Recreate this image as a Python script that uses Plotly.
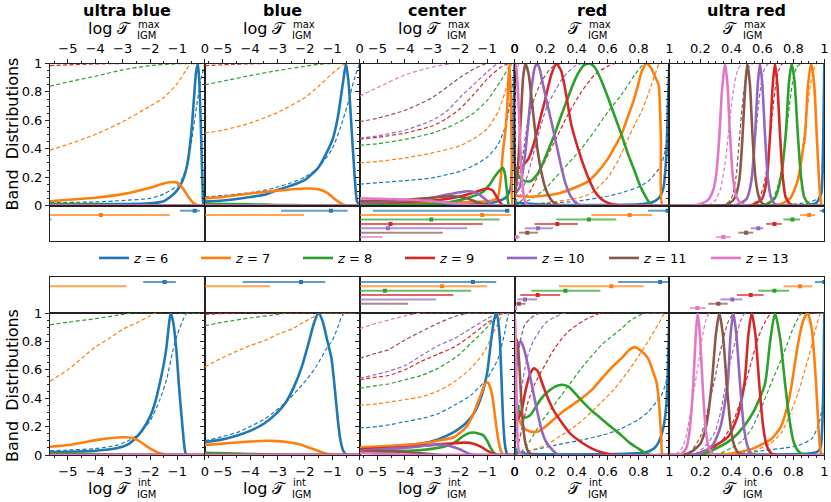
import plotly.graph_objects as go

W, H = 831, 502
Z_VALUES = [6, 7, 8, 9, 10, 11, 13]
Z_COLORS = ['#1f77b4', '#ff7f0e', '#2ca02c', '#d62728', '#9467bd', '#8c564b', '#e377c2']
BANDS = ['ultra blue', 'blue', 'center', 'red', 'ultra red']
BAND_LOG = [True, True, True, False, False]
LOG_RANGE = [-5.65, 0]
LIN_RANGE = [0, 1]
LOG_TICKS = [-5, -4, -3, -2, -1, 0]
LOG_TICKTEXT = ['−5', '−4', '−3', '−2', '−1', '0']
LIN_TICKS = [0, 0.2, 0.4, 0.6, 0.8, 1]
LIN_TICKTEXT = ['0', '0.2', '0.4', '0.6', '0.8', '1']
UR_TICKTEXT = ['', '0.2', '0.4', '0.6', '0.8', '1']
Y_TICKS = [0, 0.2, 0.4, 0.6, 0.8, 1]
Y_TICKTEXT = ['0', '0.2', '0.4', '0.6', '0.8', '1']
ZERO_LOG = [(-5.65, 0), (0, 0)]

# ---------------- top row (T_max) ----------------
TOP_UB_SOLID = {
    6: [(-5.65, 0.01), (-3, 0.01), (-2, 0.015), (-1.5, 0.03), (-1.2, 0.07), (-1, 0.11), (-0.8, 0.18), (-0.65, 0.28), (-0.5, 0.5), (-0.4, 0.75), (-0.32, 0.94), (-0.25, 1.0), (-0.19, 0.82), (-0.13, 0.45), (-0.08, 0.1), (-0.05, 0), (0, 0)],
    7: [(-5.65, 0.03), (-5, 0.04), (-4, 0.055), (-3, 0.08), (-2.5, 0.1), (-2, 0.125), (-1.5, 0.155), (-1.2, 0.165), (-1, 0.16), (-0.8, 0.12), (-0.6, 0.06), (-0.4, 0.015), (-0.2, 0), (0, 0)],
    8: [(-5.65, 0.01), (-4, 0.006), (-3, 0.003), (-2, 0.001), (0, 0)],
    9: ZERO_LOG, 10: ZERO_LOG, 11: ZERO_LOG, 13: ZERO_LOG,
}
TOP_UB_DASH = {
    6: [(-5.65, 0.02), (-4, 0.025), (-3, 0.035), (-2, 0.05), (-1.5, 0.08), (-1, 0.14), (-0.8, 0.2), (-0.6, 0.32), (-0.45, 0.5), (-0.3, 0.7), (-0.15, 0.88), (0, 1.0)],
    7: [(-5.65, 0.39), (-5, 0.43), (-4, 0.5), (-3, 0.59), (-2, 0.7), (-1.5, 0.76), (-1, 0.86), (-0.7, 0.95), (-0.5, 1.0), (0, 1.0)],
    8: [(-5.65, 0.84), (-5, 0.87), (-4, 0.91), (-3, 0.955), (-2, 0.985), (-1, 0.998), (0, 1.0)],
    9: [(-5.65, 0.985), (-5, 0.99), (-4, 0.997), (-3, 1.0), (0, 1.0)],
}
TOP_B_SOLID = {
    6: [(-5.65, 0.027), (-5, 0.035), (-4, 0.06), (-3.4, 0.08), (-3, 0.11), (-2.5, 0.14), (-2, 0.18), (-1.5, 0.27), (-1.0, 0.46), (-0.8, 0.62), (-0.6, 0.88), (-0.5, 1.0), (-0.4, 0.85), (-0.3, 0.55), (-0.2, 0.25), (-0.1, 0.03), (0, 0)],
    7: [(-5.65, 0.05), (-5, 0.06), (-4, 0.085), (-3, 0.105), (-2, 0.12), (-1.5, 0.115), (-1.2, 0.09), (-1, 0.06), (-0.8, 0.03), (-0.6, 0.007), (-0.45, 0), (0, 0)],
    8: [(-5.65, 0.012), (-4, 0.008), (-3, 0.004), (-2, 0.001), (0, 0)],
    9: ZERO_LOG, 10: ZERO_LOG, 11: ZERO_LOG, 13: ZERO_LOG,
}
TOP_B_DASH = {
    6: [(-5.65, 0.06), (-5, 0.07), (-4, 0.09), (-3.4, 0.11), (-3, 0.13), (-2.5, 0.16), (-2, 0.2), (-1.5, 0.27), (-1, 0.4), (-0.7, 0.55), (-0.4, 0.74), (-0.2, 0.89), (0, 1.0)],
    7: [(-5.65, 0.51), (-5, 0.53), (-4, 0.58), (-3, 0.655), (-2, 0.76), (-1.5, 0.84), (-1, 0.93), (-0.6, 0.99), (-0.5, 1.0), (0, 1.0)],
    8: [(-5.65, 0.85), (-5, 0.875), (-4, 0.915), (-3, 0.95), (-2, 0.98), (-1.5, 0.995), (-1, 1.0), (0, 1.0)],
    9: [(-5.65, 0.985), (-4.5, 0.995), (-3.5, 1.0), (0, 1.0)],
}
TOP_C_SOLID = {
    6: [(-5.65, 0.003), (-3, 0.005), (-2, 0.008), (-1, 0.015), (-0.6, 0.03), (-0.3, 0.06), (-0.15, 0.12), (-0.08, 0.3), (-0.04, 0.6), (0, 1.0)],
    7: [(-5.65, 0.015), (-3, 0.02), (-1.5, 0.025), (-1, 0.03), (-0.75, 0.04), (-0.61, 0.06), (-0.5, 0.2), (-0.43, 0.37), (-0.35, 0.5), (-0.28, 0.65), (-0.22, 0.9), (-0.18, 1.0), (-0.13, 0.7), (-0.1, 0.3), (-0.07, 0), (0, 0)],
    8: [(-5.65, 0.005), (-3, 0.01), (-2.2, 0.03), (-1.6, 0.06), (-1.2, 0.09), (-0.9, 0.15), (-0.7, 0.21), (-0.5, 0.255), (-0.42, 0.265), (-0.35, 0.22), (-0.28, 0.1), (-0.22, 0.01), (-0.15, 0), (0, 0)],
    9: [(-5.65, 0.02), (-4, 0.025), (-3, 0.035), (-2.2, 0.055), (-1.6, 0.085), (-1.2, 0.11), (-1.0, 0.12), (-0.8, 0.105), (-0.65, 0.06), (-0.5, 0.015), (-0.4, 0), (0, 0)],
    10: [(-5.65, 0.02), (-5, 0.025), (-4, 0.035), (-3, 0.055), (-2.5, 0.075), (-2, 0.093), (-1.7, 0.1), (-1.4, 0.09), (-1.1, 0.05), (-0.9, 0.015), (-0.75, 0), (0, 0)],
    11: [(-5.65, 0.03), (-4, 0.04), (-3, 0.055), (-2.3, 0.065), (-1.8, 0.055), (-1.4, 0.025), (-1, 0.003), (-0.8, 0), (0, 0)],
    13: [(-5.65, 0.05), (-5, 0.048), (-4, 0.042), (-3, 0.03), (-2.2, 0.015), (-1.5, 0.003), (-1, 0), (0, 0)],
}
TOP_C_DASH = {
    6: [(-5.65, 0.15), (-5, 0.16), (-4, 0.175), (-3, 0.195), (-2, 0.24), (-1.5, 0.28), (-1, 0.34), (-0.6, 0.43), (-0.3, 0.58), (-0.15, 0.75), (0, 0.97)],
    7: [(-5.65, 0.3), (-5, 0.31), (-4, 0.335), (-3, 0.37), (-2, 0.42), (-1.5, 0.47), (-1, 0.54), (-0.6, 0.66), (-0.3, 0.83), (-0.1, 1.0), (0, 1.0)],
    8: [(-5.65, 0.424), (-5, 0.435), (-4, 0.465), (-3, 0.51), (-2.5, 0.545), (-2, 0.59), (-1.5, 0.65), (-1, 0.74), (-0.5, 0.88), (-0.25, 0.96), (-0.1, 1.0), (0, 1.0)],
    9: [(-5.65, 0.468), (-5, 0.48), (-4, 0.51), (-3, 0.56), (-2.5, 0.61), (-2, 0.68), (-1.5, 0.78), (-1, 0.89), (-0.5, 0.975), (-0.2, 1.0), (0, 1.0)],
    10: [(-5.65, 0.475), (-5, 0.49), (-4, 0.53), (-3, 0.6), (-2.5, 0.66), (-2, 0.76), (-1.5, 0.85), (-1, 0.94), (-0.6, 1.0), (0, 1.0)],
    11: [(-5.65, 0.59), (-5, 0.615), (-4, 0.67), (-3, 0.76), (-2, 0.9), (-1.5, 0.96), (-1, 1.0), (0, 1.0)],
    13: [(-5.65, 0.77), (-5, 0.83), (-4, 0.92), (-3, 0.975), (-2.2, 1.0), (0, 1.0)],
}
TOP_R_SOLID = {
    6: [(0, 0.02), (0.2, 0.005), (0.5, 0.003), (0.8, 0.008), (0.88, 0.02), (0.93, 0.05), (0.96, 0.12), (0.98, 0.35), (0.99, 0.7), (1.0, 1.0)],
    7: [(0, 0.07), (0.05, 0.065), (0.1, 0.062), (0.2, 0.07), (0.3, 0.09), (0.4, 0.13), (0.474, 0.17), (0.54, 0.24), (0.603, 0.33), (0.65, 0.42), (0.69, 0.5), (0.73, 0.62), (0.76, 0.71), (0.79, 0.82), (0.82, 0.94), (0.85, 1.0), (0.88, 0.97), (0.91, 0.9), (0.93, 0.85), (0.945, 0.45), (0.955, 0), (1, 0)],
    8: [(0.01, 0.25), (0.03, 0.2), (0.06, 0.175), (0.1, 0.17), (0.14, 0.21), (0.172, 0.27), (0.21, 0.37), (0.258, 0.5), (0.3, 0.63), (0.345, 0.76), (0.38, 0.86), (0.41, 0.93), (0.45, 0.99), (0.485, 1.0), (0.52, 0.97), (0.56, 0.88), (0.603, 0.76), (0.65, 0.62), (0.69, 0.5), (0.73, 0.37), (0.776, 0.24), (0.81, 0.14), (0.84, 0.075), (0.87, 0.02), (0.9, 0), (1, 0)],
    9: [(0.01, 0.26), (0.04, 0.27), (0.06, 0.29), (0.09, 0.33), (0.12, 0.42), (0.14, 0.5), (0.17, 0.63), (0.194, 0.73), (0.237, 0.92), (0.27, 1.0), (0.3, 0.95), (0.33, 0.8), (0.366, 0.57), (0.41, 0.4), (0.453, 0.26), (0.49, 0.16), (0.517, 0.1), (0.56, 0.045), (0.6, 0.02), (0.65, 0.005), (0.7, 0), (1, 0)],
    10: [(0, 0.08), (0.03, 0.12), (0.05, 0.22), (0.07, 0.38), (0.09, 0.6), (0.11, 0.83), (0.13, 0.97), (0.145, 1.0), (0.16, 0.97), (0.18, 0.87), (0.21, 0.72), (0.24, 0.58), (0.27, 0.43), (0.3, 0.28), (0.33, 0.15), (0.36, 0.07), (0.39, 0.025), (0.43, 0), (1, 0)],
    11: [(0, 0.05), (0.02, 0.25), (0.04, 0.6), (0.055, 0.9), (0.07, 1.0), (0.09, 0.93), (0.11, 0.75), (0.13, 0.55), (0.15, 0.38), (0.17, 0.25), (0.2, 0.12), (0.23, 0.05), (0.26, 0.015), (0.3, 0), (1, 0)],
    13: [(0, 0.95), (0.008, 1.0), (0.02, 0.85), (0.03, 0.6), (0.04, 0.35), (0.05, 0.15), (0.065, 0.04), (0.08, 0.005), (0.1, 0), (1, 0)],
}
TOP_R_DASH = {
    6: [(0, 0.005), (0.2, 0.015), (0.4, 0.03), (0.6, 0.065), (0.69, 0.09), (0.8, 0.13), (0.862, 0.17), (0.92, 0.24), (0.948, 0.29), (0.975, 0.4), (1.0, 0.6)],
    7: [(0, 0), (0.2, 0.02), (0.4, 0.05), (0.5, 0.09), (0.603, 0.2), (0.67, 0.32), (0.733, 0.47), (0.78, 0.58), (0.819, 0.66), (0.855, 0.76), (0.884, 0.85), (0.91, 0.93), (0.935, 1.0), (1, 1.0)],
    8: [(0, 0), (0.1, 0.04), (0.2, 0.12), (0.258, 0.19), (0.35, 0.3), (0.431, 0.4), (0.52, 0.53), (0.603, 0.66), (0.69, 0.78), (0.776, 0.92), (0.84, 1.0), (1, 1.0)],
    9: [(0, 0), (0.05, 0.04), (0.1, 0.1), (0.172, 0.26), (0.258, 0.45), (0.345, 0.64), (0.431, 0.8), (0.517, 0.92), (0.6, 0.98), (0.65, 1.0), (1, 1.0)],
    10: [(0, 0.02), (0.04, 0.08), (0.086, 0.22), (0.13, 0.4), (0.172, 0.57), (0.21, 0.7), (0.258, 0.8), (0.3, 0.88), (0.345, 0.94), (0.4, 0.99), (0.45, 1.0), (1, 1.0)],
    11: [(0, 0.05), (0.03, 0.2), (0.054, 0.36), (0.086, 0.59), (0.129, 0.76), (0.172, 0.87), (0.237, 0.97), (0.3, 1.0), (1, 1.0)],
    13: [(0, 0.2), (0.005, 0.6), (0.01, 0.85), (0.02, 0.97), (0.03, 1.0), (1, 1.0)],
}
TOP_UR_SOLID = {
    6: [(0, 0), (0.9, 0.005), (0.95, 0.02), (0.98, 0.08), (0.99, 0.3), (1.0, 1.0)],
    7: [(0, 0), (0.65, 0), (0.72, 0.01), (0.78, 0.05), (0.83, 0.18), (0.86, 0.38), (0.876, 0.5), (0.895, 0.85), (0.915, 1.0), (0.935, 0.85), (0.951, 0.5), (0.965, 0.2), (0.975, 0.05), (0.985, 0), (1, 0)],
    8: [(0, 0), (0.58, 0), (0.63, 0.01), (0.68, 0.05), (0.72, 0.2), (0.751, 0.5), (0.772, 0.87), (0.79, 1.0), (0.808, 0.87), (0.829, 0.5), (0.85, 0.2), (0.87, 0.06), (0.9, 0.01), (0.93, 0), (1, 0)],
    9: [(0, 0), (0.5, 0), (0.55, 0.01), (0.6, 0.05), (0.63, 0.2), (0.65, 0.5), (0.667, 0.85), (0.682, 1.0), (0.697, 0.85), (0.714, 0.5), (0.732, 0.2), (0.75, 0.06), (0.78, 0.01), (0.82, 0), (1, 0)],
    10: [(0, 0), (0.4, 0), (0.45, 0.01), (0.5, 0.05), (0.53, 0.18), (0.553, 0.5), (0.57, 0.85), (0.585, 1.0), (0.6, 0.85), (0.617, 0.5), (0.635, 0.2), (0.655, 0.06), (0.68, 0.01), (0.72, 0), (1, 0)],
    11: [(0, 0), (0.33, 0), (0.38, 0.01), (0.42, 0.05), (0.45, 0.17), (0.47, 0.45), (0.49, 0.85), (0.503, 1.0), (0.52, 0.85), (0.536, 0.5), (0.555, 0.2), (0.575, 0.07), (0.6, 0.015), (0.64, 0), (1, 0)],
    13: [(0, 0), (0.15, 0), (0.2, 0.01), (0.25, 0.04), (0.28, 0.1), (0.3, 0.2), (0.32, 0.45), (0.34, 0.82), (0.359, 1.0), (0.375, 0.85), (0.39, 0.52), (0.41, 0.2), (0.43, 0.07), (0.46, 0.015), (0.5, 0), (1, 0)],
}
TOP_UR_DASH = {
    6: [(0, 0), (0.7, 0.005), (0.85, 0.015), (0.92, 0.03), (0.96, 0.05), (0.98, 0.1), (0.995, 0.3), (1.0, 0.5)],
    7: [(0, 0), (0.7, 0), (0.78, 0.05), (0.82, 0.15), (0.85, 0.32), (0.87, 0.5), (0.89, 0.68), (0.91, 0.85), (0.93, 0.95), (0.95, 1.0), (1, 1.0)],
    8: [(0, 0), (0.6, 0), (0.67, 0.05), (0.71, 0.18), (0.74, 0.38), (0.76, 0.56), (0.78, 0.75), (0.8, 0.9), (0.82, 0.97), (0.85, 1.0), (1, 1.0)],
    9: [(0, 0), (0.52, 0), (0.58, 0.05), (0.62, 0.2), (0.645, 0.42), (0.665, 0.65), (0.685, 0.84), (0.705, 0.95), (0.73, 1.0), (1, 1.0)],
    10: [(0, 0), (0.45, 0), (0.5, 0.05), (0.53, 0.2), (0.55, 0.42), (0.57, 0.65), (0.59, 0.84), (0.61, 0.95), (0.64, 1.0), (1, 1.0)],
    11: [(0, 0), (0.35, 0), (0.4, 0.05), (0.43, 0.2), (0.45, 0.45), (0.47, 0.7), (0.49, 0.88), (0.51, 0.97), (0.54, 1.0), (1, 1.0)],
    13: [(0, 0), (0.25, 0), (0.3, 0.04), (0.33, 0.12), (0.36, 0.3), (0.38, 0.5), (0.4, 0.7), (0.42, 0.86), (0.44, 0.95), (0.47, 1.0), (1, 1.0)],
}

# error bars: z -> (centre or None, low, high)
TOP_UB_ERR = {6: (-0.37, -0.91, -0.18), 7: (-3.79, -7, -1.28), 8: (None, -7, -5.6)}
TOP_B_ERR = {6: (-1.05, -2.87, -0.44), 7: (None, -7, -2.03)}
TOP_C_ERR = {6: (-0.27, -5.17, -0.19), 7: (-1.18, -7, -0.15), 8: (-3.04, -7, -0.55), 9: (-4.53, -7, -1.16), 10: (-4.62, -7, -1.73), 11: (None, -7, -2.62), 13: (None, -7, -4.82)}
TOP_R_ERR = {6: (0.987, 0.862, 0.991), 7: (0.743, 0.496, 0.888), 8: (0.48, 0.27, 0.657), 9: (0.276, 0.129, 0.409), 10: (0.151, 0.065, 0.248), 11: (0.082, 0.028, 0.151), 13: (0.011, 0.002, 0.032)}
TOP_UR_ERR = {6: (1.0, 0.97, 1.03), 7: (0.902, 0.844, 0.941), 8: (0.794, 0.736, 0.844), 9: (0.678, 0.624, 0.725), 10: (0.574, 0.525, 0.606), 11: (0.495, 0.445, 0.542), 13: (0.348, 0.301, 0.396)}

# ---------------- bottom row (T_int) ----------------
BOT_UB_SOLID = {
    6: [(-5.65, 0.02), (-5, 0.022), (-4, 0.03), (-3.22, 0.047), (-2.8, 0.075), (-2.6, 0.106), (-2.3, 0.17), (-2, 0.27), (-1.8, 0.38), (-1.64, 0.51), (-1.5, 0.64), (-1.4, 0.76), (-1.32, 0.9), (-1.25, 1.0), (-1.15, 0.93), (-1.04, 0.74), (-0.95, 0.5), (-0.85, 0.27), (-0.78, 0.12), (-0.73, 0.035), (-0.67, 0), (0, 0)],
    7: [(-5.65, 0.058), (-5, 0.07), (-4.4, 0.09), (-3.8, 0.11), (-3.3, 0.122), (-2.9, 0.125), (-2.6, 0.118), (-2.37, 0.095), (-2.15, 0.065), (-1.99, 0.045), (-1.8, 0.025), (-1.64, 0.012), (-1.4, 0), (0, 0)],
    8: [(-5.65, 0.012), (-4.5, 0.008), (-3.5, 0.004), (-2.5, 0.001), (0, 0)],
    9: ZERO_LOG, 10: ZERO_LOG, 11: ZERO_LOG, 13: ZERO_LOG,
}
BOT_UB_DASH = {
    6: [(-5.65, 0.03), (-5, 0.035), (-4, 0.045), (-3.2, 0.07), (-2.8, 0.1), (-2.4, 0.15), (-2, 0.24), (-1.64, 0.39), (-1.4, 0.53), (-1.16, 0.74), (-1.0, 0.85), (-0.8, 0.95), (-0.65, 1.0), (0, 1.0)],
    7: [(-5.65, 0.52), (-5, 0.6), (-4.44, 0.69), (-4, 0.76), (-3.5, 0.82), (-3, 0.885), (-2.5, 0.93), (-2, 0.98), (-1.8, 1.0), (0, 1.0)],
    8: [(-5.65, 0.917), (-5, 0.935), (-4, 0.96), (-3, 0.99), (-2.7, 1.0), (0, 1.0)],
}
BOT_B_SOLID = {
    6: [(-5.65, 0.09), (-5, 0.11), (-4.5, 0.135), (-4, 0.17), (-3.5, 0.22), (-3, 0.3), (-2.7, 0.37), (-2.4, 0.48), (-2.1, 0.63), (-1.85, 0.8), (-1.65, 0.94), (-1.5, 1.0), (-1.35, 0.94), (-1.2, 0.82), (-1.03, 0.68), (-0.9, 0.45), (-0.8, 0.25), (-0.7, 0.1), (-0.6, 0.03), (-0.48, 0), (0, 0)],
    7: [(-5.65, 0.07), (-5, 0.08), (-4.5, 0.088), (-4, 0.095), (-3.4, 0.1), (-3, 0.098), (-2.6, 0.09), (-2.2, 0.075), (-1.9, 0.055), (-1.6, 0.035), (-1.3, 0.013), (-1.0, 0.002), (-0.8, 0), (0, 0)],
    8: [(-5.65, 0.015), (-4.5, 0.01), (-3.5, 0.005), (-2.5, 0.001), (0, 0)],
    9: ZERO_LOG, 10: ZERO_LOG, 11: ZERO_LOG, 13: ZERO_LOG,
}
BOT_B_DASH = {
    6: [(-5.65, 0.1), (-5, 0.13), (-4.39, 0.165), (-4, 0.2), (-3.5, 0.25), (-3.18, 0.294), (-2.7, 0.37), (-2.21, 0.47), (-1.9, 0.54), (-1.6, 0.62), (-1.24, 0.74), (-0.99, 0.81), (-0.8, 0.9), (-0.65, 0.98), (-0.55, 1.0), (0, 1.0)],
    7: [(-5.65, 0.62), (-5.12, 0.675), (-4.5, 0.73), (-4, 0.77), (-3.42, 0.81), (-3, 0.85), (-2.45, 0.89), (-2, 0.94), (-1.5, 0.99), (-1.3, 1.0), (0, 1.0)],
    8: [(-5.65, 0.91), (-5, 0.935), (-4, 0.965), (-3, 0.99), (-2.6, 1.0), (0, 1.0)],
    9: [(-5.65, 0.99), (-4.5, 1.0), (0, 1.0)],
}
BOT_C_SOLID = {
    6: [(-5.65, 0.05), (-5, 0.055), (-4.5, 0.06), (-4, 0.07), (-3.4, 0.08), (-2.8, 0.11), (-2.2, 0.163), (-1.8, 0.22), (-1.46, 0.3), (-1.2, 0.42), (-1.0, 0.58), (-0.86, 0.8), (-0.75, 0.95), (-0.65, 1.0), (-0.55, 0.85), (-0.48, 0.55), (-0.42, 0.25), (-0.35, 0.07), (-0.28, 0.01), (-0.2, 0), (0, 0)],
    7: [(-5.65, 0.055), (-5, 0.06), (-4, 0.07), (-3.4, 0.08), (-2.8, 0.1), (-2.2, 0.127), (-1.8, 0.19), (-1.58, 0.256), (-1.4, 0.34), (-1.22, 0.43), (-1.08, 0.5), (-0.98, 0.51), (-0.88, 0.47), (-0.8, 0.4), (-0.7, 0.25), (-0.6, 0.115), (-0.5, 0.03), (-0.42, 0), (0, 0)],
    8: [(-5.65, 0.02), (-4.5, 0.025), (-3.4, 0.035), (-2.8, 0.05), (-2.4, 0.068), (-2.1, 0.1), (-1.9, 0.13), (-1.7, 0.152), (-1.5, 0.158), (-1.3, 0.15), (-1.15, 0.14), (-1.0, 0.1), (-0.86, 0.045), (-0.72, 0.01), (-0.6, 0), (0, 0)],
    9: [(-5.65, 0.04), (-5, 0.045), (-4, 0.055), (-3.4, 0.065), (-2.8, 0.075), (-2.2, 0.083), (-1.8, 0.087), (-1.5, 0.08), (-1.2, 0.055), (-1.0, 0.03), (-0.8, 0.01), (-0.6, 0), (0, 0)],
    10: [(-5.65, 0.03), (-5, 0.038), (-4, 0.05), (-3.4, 0.062), (-2.8, 0.073), (-2.4, 0.065), (-2.0, 0.04), (-1.8, 0.02), (-1.6, 0.005), (-1.4, 0), (0, 0)],
    11: [(-5.65, 0.025), (-5, 0.027), (-4.5, 0.026), (-4, 0.02), (-3.4, 0.012), (-3, 0.005), (-2.6, 0), (0, 0)],
    13: [(-5.65, 0.015), (-5, 0.01), (-4, 0.003), (-3.5, 0), (0, 0)],
}
BOT_C_DASH = {
    6: [(-5.65, 0.19), (-5, 0.2), (-4.5, 0.215), (-4, 0.235), (-3.4, 0.256), (-2.8, 0.29), (-2.2, 0.35), (-1.6, 0.42), (-1.0, 0.54), (-0.6, 0.68), (-0.35, 0.87), (-0.2, 1.0), (0, 1.0)],
    7: [(-5.65, 0.35), (-5, 0.36), (-4.5, 0.375), (-4, 0.39), (-3.4, 0.41), (-2.8, 0.45), (-2.2, 0.515), (-1.6, 0.61), (-1.2, 0.7), (-0.98, 0.774), (-0.8, 0.85), (-0.6, 0.927), (-0.42, 1.0), (0, 1.0)],
    8: [(-5.65, 0.47), (-5, 0.49), (-4.6, 0.5), (-4, 0.53), (-3.4, 0.56), (-2.8, 0.61), (-2.4, 0.656), (-2, 0.71), (-1.6, 0.786), (-1.3, 0.84), (-1.0, 0.9), (-0.7, 0.97), (-0.55, 1.0), (0, 1.0)],
    9: [(-5.65, 0.53), (-5, 0.55), (-4.6, 0.56), (-4, 0.6), (-3.4, 0.66), (-2.8, 0.71), (-2.2, 0.76), (-1.6, 0.84), (-1.0, 0.93), (-0.6, 0.98), (-0.45, 1.0), (0, 1.0)],
    10: [(-5.65, 0.54), (-5, 0.57), (-4.6, 0.59), (-4, 0.63), (-3.4, 0.7), (-2.8, 0.77), (-2.2, 0.82), (-1.6, 0.89), (-1.0, 0.96), (-0.6, 1.0), (0, 1.0)],
    11: [(-5.65, 0.68), (-5, 0.72), (-4.62, 0.74), (-4, 0.81), (-3.4, 0.87), (-2.8, 0.927), (-2.2, 0.975), (-1.6, 1.0), (0, 1.0)],
    13: [(-5.65, 0.89), (-5, 0.93), (-4.5, 0.955), (-4, 0.98), (-3.4, 1.0), (0, 1.0)],
}
BOT_R_SOLID = {
    6: [(0, 0.05), (0.02, 0.02), (0.05, 0.01), (0.2, 0.005), (0.5, 0.005), (0.75, 0.01), (0.85, 0.02), (0.9, 0.045), (0.93, 0.09), (0.96, 0.19), (0.98, 0.35), (0.99, 0.6), (1.0, 1.0)],
    7: [(0.01, 0.35), (0.03, 0.25), (0.06, 0.19), (0.1, 0.165), (0.15, 0.165), (0.2, 0.2), (0.258, 0.256), (0.33, 0.32), (0.431, 0.397), (0.5, 0.46), (0.582, 0.562), (0.64, 0.63), (0.69, 0.68), (0.74, 0.74), (0.776, 0.76), (0.82, 0.73), (0.862, 0.68), (0.89, 0.6), (0.916, 0.515), (0.93, 0.4), (0.94, 0.25), (0.948, 0.1), (0.955, 0), (1, 0)],
    8: [(0.01, 0.4), (0.03, 0.3), (0.06, 0.26), (0.1, 0.28), (0.172, 0.397), (0.22, 0.45), (0.258, 0.48), (0.31, 0.495), (0.35, 0.48), (0.431, 0.385), (0.5, 0.31), (0.56, 0.256), (0.62, 0.2), (0.69, 0.138), (0.75, 0.08), (0.8, 0.045), (0.85, 0.01), (0.89, 0), (1, 0)],
    9: [(0.02, 0.25), (0.043, 0.3), (0.07, 0.45), (0.1, 0.57), (0.125, 0.61), (0.15, 0.59), (0.18, 0.5), (0.215, 0.4), (0.26, 0.3), (0.302, 0.233), (0.36, 0.15), (0.431, 0.09), (0.5, 0.045), (0.56, 0.02), (0.65, 0), (1, 0)],
    10: [(0, 0.3), (0.01, 0.6), (0.025, 0.78), (0.04, 0.8), (0.06, 0.75), (0.086, 0.633), (0.11, 0.5), (0.129, 0.397), (0.15, 0.29), (0.172, 0.186), (0.2, 0.1), (0.237, 0.045), (0.27, 0.01), (0.3, 0), (1, 0)],
    11: [(0, 0.6), (0.01, 0.82), (0.02, 0.78), (0.03, 0.65), (0.04, 0.45), (0.05, 0.28), (0.06, 0.15), (0.075, 0.06), (0.09, 0.02), (0.12, 0), (1, 0)],
    13: [(0, 1.0), (0.005, 0.9), (0.01, 0.6), (0.015, 0.3), (0.02, 0.1), (0.03, 0.02), (0.05, 0), (1, 0)],
}
BOT_R_DASH = {
    6: [(0, 0.01), (0.1, 0.03), (0.258, 0.068), (0.474, 0.115), (0.6, 0.15), (0.69, 0.186), (0.8, 0.25), (0.862, 0.303), (0.92, 0.38), (0.948, 0.42), (0.975, 0.5), (1.0, 0.62)],
    7: [(0, 0), (0.1, 0.03), (0.2, 0.07), (0.302, 0.138), (0.4, 0.21), (0.474, 0.28), (0.56, 0.37), (0.647, 0.468), (0.72, 0.57), (0.776, 0.656), (0.82, 0.73), (0.862, 0.8), (0.9, 0.87), (0.938, 0.94), (0.97, 1.0), (1, 1.0)],
    8: [(0, 0), (0.05, 0.03), (0.1, 0.1), (0.172, 0.233), (0.24, 0.33), (0.302, 0.42), (0.37, 0.52), (0.431, 0.61), (0.5, 0.7), (0.56, 0.774), (0.62, 0.83), (0.69, 0.89), (0.75, 0.95), (0.8, 0.98), (0.84, 1.0), (1, 1.0)],
    9: [(0, 0), (0.02, 0.06), (0.05, 0.2), (0.086, 0.37), (0.13, 0.5), (0.172, 0.586), (0.258, 0.75), (0.345, 0.868), (0.453, 0.95), (0.56, 1.0), (1, 1.0)],
    10: [(0, 0.05), (0.02, 0.25), (0.043, 0.45), (0.065, 0.6), (0.086, 0.7), (0.12, 0.8), (0.172, 0.89), (0.21, 0.94), (0.258, 0.97), (0.33, 1.0), (1, 1.0)],
    11: [(0, 0.3), (0.01, 0.55), (0.02, 0.68), (0.04, 0.82), (0.065, 0.915), (0.1, 0.96), (0.14, 0.99), (0.18, 1.0), (1, 1.0)],
    13: [(0, 0.3), (0.005, 0.8), (0.01, 1.0), (1, 1.0)],
}
BOT_UR_SOLID = {
    6: [(0, 0), (0.8, 0.005), (0.9, 0.01), (0.95, 0.02), (0.975, 0.05), (0.99, 0.3), (1.0, 1.0)],
    7: [(0, 0), (0.3, 0), (0.45, 0.02), (0.55, 0.05), (0.66, 0.115), (0.72, 0.2), (0.77, 0.38), (0.79, 0.5), (0.83, 0.78), (0.865, 0.95), (0.893, 1.0), (0.92, 0.88), (0.947, 0.5), (0.965, 0.15), (0.975, 0.03), (0.985, 0), (1, 0)],
    8: [(0, 0), (0.2, 0), (0.3, 0.045), (0.4, 0.11), (0.48, 0.2), (0.55, 0.32), (0.617, 0.5), (0.65, 0.8), (0.682, 1.0), (0.715, 0.82), (0.747, 0.5), (0.775, 0.25), (0.8, 0.1), (0.83, 0.03), (0.87, 0), (1, 0)],
    9: [(0, 0), (0.15, 0), (0.25, 0.04), (0.3, 0.07), (0.38, 0.13), (0.44, 0.27), (0.484, 0.5), (0.51, 0.85), (0.531, 1.0), (0.555, 0.85), (0.58, 0.5), (0.605, 0.2), (0.63, 0.06), (0.66, 0.01), (0.7, 0), (1, 0)],
    10: [(0, 0), (0.15, 0), (0.22, 0.02), (0.28, 0.07), (0.33, 0.2), (0.376, 0.5), (0.395, 0.85), (0.413, 1.0), (0.432, 0.85), (0.456, 0.5), (0.48, 0.2), (0.505, 0.06), (0.53, 0.01), (0.56, 0), (1, 0)],
    11: [(0, 0), (0.08, 0), (0.14, 0.02), (0.2, 0.08), (0.24, 0.22), (0.273, 0.5), (0.3, 0.85), (0.322, 1.0), (0.345, 0.85), (0.37, 0.5), (0.395, 0.2), (0.42, 0.06), (0.45, 0.01), (0.48, 0), (1, 0)],
    13: [(0, 0), (0.05, 0), (0.08, 0.01), (0.11, 0.05), (0.13, 0.17), (0.154, 0.5), (0.17, 0.85), (0.182, 1.0), (0.195, 0.87), (0.214, 0.5), (0.235, 0.17), (0.255, 0.05), (0.28, 0.01), (0.31, 0), (1, 0)],
}
BOT_UR_DASH = {
    6: [(0, 0), (0.3, 0.005), (0.5, 0.015), (0.617, 0.033), (0.75, 0.05), (0.833, 0.068), (0.919, 0.115), (0.962, 0.21), (0.985, 0.32), (1.0, 0.45)],
    7: [(0, 0), (0.4, 0), (0.55, 0.03), (0.65, 0.08), (0.725, 0.16), (0.78, 0.29), (0.833, 0.445), (0.87, 0.58), (0.897, 0.68), (0.92, 0.78), (0.94, 0.87), (0.96, 0.95), (0.975, 1.0), (1, 1.0)],
    8: [(0, 0), (0.3, 0), (0.4, 0.05), (0.47, 0.1), (0.531, 0.186), (0.6, 0.35), (0.66, 0.515), (0.725, 0.68), (0.76, 0.78), (0.79, 0.87), (0.82, 0.94), (0.855, 1.0), (1, 1.0)],
    9: [(0, 0), (0.2, 0), (0.28, 0.04), (0.34, 0.1), (0.402, 0.21), (0.45, 0.35), (0.488, 0.49), (0.52, 0.62), (0.553, 0.75), (0.575, 0.83), (0.596, 0.89), (0.63, 0.96), (0.66, 1.0), (1, 1.0)],
    10: [(0, 0), (0.15, 0), (0.22, 0.05), (0.26, 0.1), (0.294, 0.16), (0.33, 0.3), (0.359, 0.47), (0.38, 0.6), (0.402, 0.7), (0.425, 0.8), (0.445, 0.89), (0.465, 0.96), (0.49, 1.0), (1, 1.0)],
    11: [(0, 0), (0.1, 0), (0.15, 0.04), (0.2, 0.13), (0.23, 0.233), (0.26, 0.38), (0.294, 0.54), (0.315, 0.66), (0.337, 0.77), (0.36, 0.87), (0.38, 0.94), (0.42, 1.0), (1, 1.0)],
    13: [(0, 0), (0.03, 0), (0.07, 0.03), (0.1, 0.1), (0.12, 0.2), (0.143, 0.35), (0.165, 0.5), (0.186, 0.633), (0.2, 0.75), (0.219, 0.87), (0.235, 0.95), (0.26, 1.0), (1, 1.0)],
}

BOT_UB_ERR = {6: (-1.47, -2.25, -1.06), 7: (None, -7, -2.86)}
BOT_B_ERR = {6: (-2.14, -4.27, -1.26), 7: (None, -7, -3.28)}
BOT_C_ERR = {6: (-1.52, -7, -0.67), 7: (-2.65, -7, -1.0), 8: (-4.73, -7, -1.58), 9: (None, -7, -2.23), 10: (None, -7, -2.86), 11: (None, -7, -3.89)}
BOT_R_ERR = {6: (0.94, 0.668, 1.0), 7: (0.625, 0.286, 0.834), 8: (0.328, 0.108, 0.554), 9: (0.149, 0.037, 0.295), 10: (0.067, 0.017, 0.146), 11: (0.028, 0.01, 0.071), 13: (0.003, -0.01, 0.01)}
BOT_UR_ERR = {6: (1.0, 0.94, 1.03), 7: (0.843, 0.736, 0.923), 8: (0.678, 0.574, 0.772), 9: (0.525, 0.436, 0.609), 10: (0.406, 0.329, 0.471), 11: (0.316, 0.251, 0.376), 13: (0.18, 0.133, 0.234)}

TOP_SOLID = [TOP_UB_SOLID, TOP_B_SOLID, TOP_C_SOLID, TOP_R_SOLID, TOP_UR_SOLID]
TOP_DASH = [TOP_UB_DASH, TOP_B_DASH, TOP_C_DASH, TOP_R_DASH, TOP_UR_DASH]
TOP_ERR = [TOP_UB_ERR, TOP_B_ERR, TOP_C_ERR, TOP_R_ERR, TOP_UR_ERR]
BOT_SOLID = [BOT_UB_SOLID, BOT_B_SOLID, BOT_C_SOLID, BOT_R_SOLID, BOT_UR_SOLID]
BOT_DASH = [BOT_UB_DASH, BOT_B_DASH, BOT_C_DASH, BOT_R_DASH, BOT_UR_DASH]
BOT_ERR = [BOT_UB_ERR, BOT_B_ERR, BOT_C_ERR, BOT_R_ERR, BOT_UR_ERR]

# ---------------- layout geometry (pixels) ----------------
COL_X0 = 50.0
COL_W = 154.86
TOP_MAIN = (63.5, 205.5)
TOP_STRIP = (205.5, 241.0)
BOT_STRIP = (277.0, 313.0)
BOT_MAIN = (313.0, 455.0)
TOP_STRIP_RANGE = [6.89, -1.18]
BOT_STRIP_RANGE = [7.13, -1.15]

FONT = 'DejaVu Sans'
SPINE = '#222222'


def px_x(p):
    return p / W


def px_y(p):
    return 1 - p / H


def ydom(rng):
    return [px_y(rng[1]), px_y(rng[0])]


def axname(kind, n):
    return kind if n == 1 else f'{kind}{n}'


fig = go.Figure()
layout = {}
COLOR_OF = dict(zip(Z_VALUES, Z_COLORS))
legend_done = set()


def add_curves(n, solid, dash):
    xa, ya = axname('x', n), axname('y', n)
    for z in Z_VALUES:
        if z in dash:
            xs, ys = zip(*dash[z])
            fig.add_trace(go.Scatter(x=xs, y=ys, xaxis=xa, yaxis=ya, mode='lines',
                                     line=dict(color=COLOR_OF[z], width=1.2, dash='4px,2.5px', shape='spline', smoothing=0.6),
                                     showlegend=False, hoverinfo='skip'))
    for z in Z_VALUES:
        if z in solid:
            xs, ys = zip(*solid[z])
            show = z not in legend_done
            legend_done.add(z)
            fig.add_trace(go.Scatter(x=xs, y=ys, xaxis=xa, yaxis=ya, mode='lines',
                                     line=dict(color=COLOR_OF[z], width=2.6, shape='spline', smoothing=0.6),
                                     name=f'<i>z</i> = {z}', legendrank=z, showlegend=show, hoverinfo='skip'))


def add_errors(n, err):
    xa, ya = axname('x', n), axname('y', n)
    for k, z in enumerate(Z_VALUES):
        if z not in err:
            continue
        c, lo, hi = err[z]
        fig.add_trace(go.Scatter(x=[lo, hi], y=[k, k], xaxis=xa, yaxis=ya, mode='lines',
                                 line=dict(color=COLOR_OF[z], width=2), opacity=0.7,
                                 showlegend=False, hoverinfo='skip'))
        if c is not None:
            fig.add_trace(go.Scatter(x=[c], y=[k], xaxis=xa, yaxis=ya, mode='markers',
                                     marker=dict(color=COLOR_OF[z], symbol='square', size=4),
                                     showlegend=False, hoverinfo='skip'))


for i in range(5):
    x0 = COL_X0 + i * COL_W
    x1 = x0 + COL_W
    xdom = [px_x(x0), px_x(x1)]
    is_log = BAND_LOG[i]
    xr = LOG_RANGE if is_log else LIN_RANGE
    if is_log:
        tv, tt, minor_dt = LOG_TICKS, LOG_TICKTEXT, 0.5
    else:
        tv, tt, minor_dt = LIN_TICKS, (UR_TICKTEXT if i == 4 else LIN_TICKTEXT), 0.05

    n_top, n_ts, n_bs, n_bot = 1 + i, 6 + i, 11 + i, 16 + i

    common_x = dict(domain=xdom, range=xr, showline=True, mirror=True, linecolor=SPINE, linewidth=1,
                    showgrid=False, zeroline=False, automargin=False)
    common_y = dict(showline=True, mirror=True, linecolor=SPINE, linewidth=1, showgrid=False, zeroline=False,
                    automargin=False)

    for n, row_rng, side in [(n_top, TOP_MAIN, 'top'), (n_bot, BOT_MAIN, 'bottom')]:
        layout[axname('xaxis', n)] = dict(common_x, anchor=axname('y', n), side=side, ticks='outside',
                                          ticklen=4, tickwidth=1, tickcolor=SPINE, tickvals=tv, ticktext=tt,
                                          tickfont=dict(family=FONT, size=13, color='black'),
                                          minor=dict(ticks='outside', ticklen=2, dtick=minor_dt, tickcolor=SPINE,
                                                     tick0=0))
        layout[axname('yaxis', n)] = dict(common_y, anchor=axname('x', n), domain=ydom(row_rng), range=[0, 1],
                                          ticks='outside', ticklen=4, tickwidth=1, tickcolor=SPINE,
                                          tickvals=Y_TICKS, ticktext=Y_TICKTEXT, showticklabels=(i == 0),
                                          tickfont=dict(family=FONT, size=13, color='black'),
                                          minor=dict(ticks='outside', ticklen=2, dtick=0.05, tick0=0, tickcolor=SPINE))
    for n, row_rng, rr in [(n_ts, TOP_STRIP, TOP_STRIP_RANGE), (n_bs, BOT_STRIP, BOT_STRIP_RANGE)]:
        layout[axname('xaxis', n)] = dict(common_x, anchor=axname('y', n), showticklabels=False, ticks='')
        layout[axname('yaxis', n)] = dict(common_y, anchor=axname('x', n), domain=ydom(row_rng), range=rr,
                                          showticklabels=False, ticks='')

    add_curves(n_top, TOP_SOLID[i], TOP_DASH[i])
    add_curves(n_bot, BOT_SOLID[i], BOT_DASH[i])
    add_errors(n_ts, TOP_ERR[i])
    add_errors(n_bs, BOT_ERR[i])

annotations = []


def label(text, x, y, size, xanchor='center'):
    annotations.append(dict(text=text, x=px_x(x), y=px_y(y), xref='paper', yref='paper', showarrow=False,
                            font=dict(family=FONT, size=size, color='black'), xanchor=xanchor,
                            yanchor='middle', borderpad=0))


for i, band in enumerate(BANDS):
    cx = COL_X0 + (i + 0.5) * COL_W
    label(f'<b>{band}</b>', cx, 11, 16)
    main = 'log 𝒯' if BAND_LOG[i] else '𝒯'
    shift = 6 if BAND_LOG[i] else -8
    # top: T_max ; bottom: T_int
    for sup, y_main, y_sup, y_sub in [('max', 29, 24.5, 35.5), ('int', 488, 482.5, 494)]:
        label(main, cx + shift, y_main, 16, 'right')
        label(sup, cx + shift + 4, y_sup, 10, 'left')
        label('IGM', cx + shift + 3, y_sub, 10, 'left')

for yc in [(TOP_MAIN[0] + TOP_MAIN[1]) / 2, 386]:
    annotations.append(dict(text='Band  Distributions', x=px_x(12), y=px_y(yc), xref='paper', yref='paper',
                            showarrow=False, textangle=-90, font=dict(family=FONT, size=16, color='black'),
                            xanchor='center', yanchor='middle'))

fig.update_layout(
    width=W, height=H, margin=dict(l=0, r=0, t=0, b=0, autoexpand=False),
    paper_bgcolor='white', plot_bgcolor='white',
    font=dict(family=FONT, size=13, color='black'),
    annotations=annotations,
    legend=dict(orientation='h', x=px_x(451), xanchor='center', y=px_y(258), yanchor='middle',
                font=dict(family=FONT, size=13, color='black'), entrywidth=57, entrywidthmode='pixels',
                bgcolor='rgba(0,0,0,0)', traceorder='normal'),
    **layout,
)

fig.write_html('out.html', config={'displayModeBar': False},
               post_script="document.body.style.margin='0px';")
